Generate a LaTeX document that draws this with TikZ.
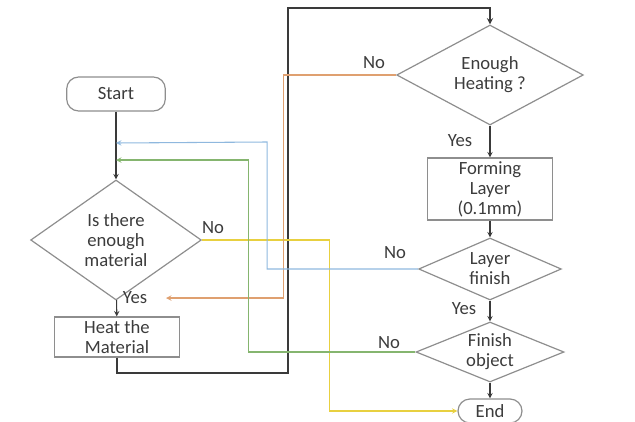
\documentclass[tikz,border=0pt]{standalone}
\usepackage{fontspec}
\setmainfont{Carlito}
\usepackage{tikz}
\usetikzlibrary{shapes.geometric}
\usepackage{xcolor}

\definecolor{boxgray}{HTML}{8E8E8E}
\definecolor{txtgray}{HTML}{3C3C3C}
\definecolor{lnblue}{HTML}{8FB8DE}
\definecolor{lngreen}{HTML}{85B56F}
\definecolor{lnorange}{HTML}{DFA070}
\definecolor{lnyellow}{HTML}{E8D040}
\definecolor{lnblack}{HTML}{3A3A3A}

\begin{document}
\begin{tikzpicture}[x=0.75pt, y=-0.75pt, >=stealth,
  every node/.style={font=\fontsize{14}{15}\selectfont, text=txtgray, align=center},
  terminal/.style={rectangle, rounded corners=9pt, draw=boxgray, line width=0.9pt},
  process/.style={rectangle, draw=boxgray, line width=0.9pt, inner sep=1pt},
  decision/.style={diamond, draw=boxgray, line width=0.9pt, inner sep=0pt},
  flow/.style={->, draw=lnblack, line width=0.8pt}]

\useasboundingbox (0,0) rectangle (635,421);

% Left column
\node[terminal,minimum width=74pt,minimum height=25.5pt] at (116,94) (start) {Start};
\node[decision,minimum width=128pt,minimum height=90pt,aspect=1.42] at (116,240) (q1) {Is there\\enough\\material};
\node[process,minimum width=94pt,minimum height=30pt] at (117,337) (heat) {Heat the\\Material};

% Right column
\node[decision,minimum width=140pt,minimum height=75pt,aspect=1.87] at (490,75) (q2) {Enough\\Heating ?};
\node[process,minimum width=94pt,minimum height=46.5pt] at (490,189) (form) {Forming\\Layer\\(0.1mm)};
\node[decision,minimum width=107pt,minimum height=46.5pt,aspect=2.3] at (490,269) (q3) {Layer\\finish};
\node[decision,minimum width=111pt,minimum height=45pt,aspect=2.47] at (490,352) (q4) {Finish\\object};
\node[terminal,minimum width=48pt,minimum height=18pt,inner sep=1pt] at (490,411) (end) {End};

% Labels
\node at (213,228) (no1) {No};
\node at (135,298) (yes1) {Yes};
\node at (374,63) (no2) {No};
\node at (460,141) (yes2) {Yes};
\node at (395,253) (no3) {No};
\node at (464,309) (yes3) {Yes};
\node at (389,343) (no4) {No};

% Turning points
\coordinate (in1) at (116,143);
\coordinate (in2) at (116,160);
\coordinate (yestip) at (166,298);
\coordinate (blk1) at (288,373);
\coordinate (blk2) at (288,8);

% Main flow
\draw[flow] (start) -- (q1);
\draw[flow] (q1) -- (heat);
\draw[flow,line width=1.1pt] (heat.south) |- (blk1) -- (blk2) -| (q2.north);
\draw[flow] (q2) -- (form);
\draw[flow] (form) -- (q3);
\draw[flow] (q3) -- (q4);
\draw[flow] (q4) -- (end);

% Loops back
\draw[flow,draw=lnyellow] (q1.east) -- ++(128,0) |- (end.west);
\draw[flow,draw=lnorange] (q2.west) -| ++(-113,223) -- (yestip);
\draw[flow,draw=lnblue] (q3.west) -| ++(-151,-127) -- (in1);
\draw[flow,draw=lngreen] (q4.west) -| ++(-167,-192) -- (in2);

\end{tikzpicture}
\end{document}
